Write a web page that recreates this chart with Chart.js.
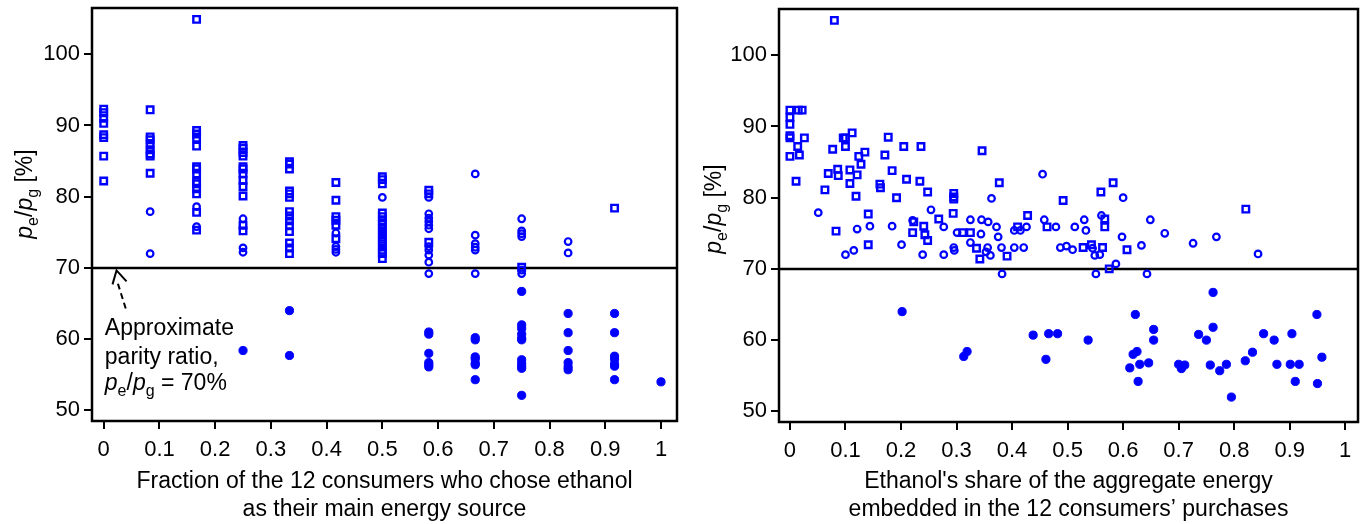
<!DOCTYPE html>
<html>
<head>
<meta charset="utf-8">
<script src="https://cdn.jsdelivr.net/npm/chart.js@4.4.1/dist/chart.umd.min.js"></script>
<style>
  html, body { margin: 0; padding: 0; background: #fff; }
  #wrap { position: relative; width: 1365px; height: 524px; }
  .panel { position: absolute; top: 0; height: 524px; }
</style>
</head>
<body>
<div id="wrap">
  <div class="panel" style="left:0;width:690px"><canvas id="fraction-chart"></canvas></div>
  <div class="panel" style="left:690px;width:675px"><canvas id="share-chart"></canvas></div>
</div>
<script>
// left chart: index = how many of the 12 consumers chose ethanol, values = pe/pg [%]
const leftSquares = [
  [92.3, 91.8, 91.0, 90.3, 88.7, 88.3, 85.7, 82.2],
  [92.2, 88.4, 88.0, 87.3, 86.6, 86.0, 85.7, 83.3],
  [104.9, 89.3, 88.8, 88.2, 87.1, 84.2, 83.9, 83.2, 82.1, 81.8, 81.1, 80.4, 77.8, 75.3],
  [87.2, 86.8, 86.2, 85.7, 84.2, 83.9, 83.2, 82.3, 81.4, 80.1, 76.0, 75.2],
  [84.9, 84.6, 83.9, 80.8, 80.4, 79.9, 77.9, 77.3, 76.6, 75.9, 75.1, 73.5, 72.8, 72.0],
  [82.0, 79.5, 77.2, 76.7, 76.0, 74.1],
  [82.8, 82.4, 81.8, 77.7, 77.2, 76.6, 76.1, 75.5, 74.9, 74.3, 73.7, 73.1, 72.5, 72.0, 71.3],
  [80.9, 80.4, 73.6],
  [],
  [70.1],
  [],
  [78.4],
  []
];
const leftCircles = [
  [],
  [77.9, 72.0],
  [78.6, 75.8],
  [76.9, 72.8, 72.2],
  [],
  [74.9, 73.0, 72.6, 72.2],
  [79.9],
  [79.9, 77.6, 77.0, 76.5, 76.0, 75.5, 73.0, 72.5, 71.8, 70.8, 69.2],
  [83.2, 74.6, 73.4, 72.9, 72.5, 69.2],
  [76.9, 75.2, 74.8, 74.4, 69.7, 69.2],
  [73.7, 72.1],
  [],
  []
];
const leftDots = [
  [], [], [],
  [58.4],
  [64.0, 57.7],
  [], [],
  [61.0, 60.7, 58.0, 56.7, 56.4, 56.1],
  [60.2, 59.9, 57.5, 57.2, 56.6, 56.4, 54.3],
  [66.7, 62.0, 61.5, 60.7, 60.1, 59.9, 57.1, 56.6, 56.2, 55.9, 52.1],
  [63.6, 60.9, 58.4, 56.7, 56.1, 55.7],
  [63.6, 60.9, 57.6, 57.2, 56.5, 56.2, 54.3],
  [54.0]
];
const consumers = 12;

// right chart: [ethanol share of energy, pe/pg %]
const rightSquares = [
  [0.080, 104.9], [0.0, 92.3], [0.015, 92.3], [0.022, 92.3], [0.0, 91.3], [0.0, 90.3],
  [0.0, 88.7], [0.0, 88.4], [0.026, 88.4], [0.014, 87.2], [0.0, 85.8], [0.017, 86.0],
  [0.011, 82.3], [0.112, 89.1], [0.096, 88.4], [0.100, 88.4], [0.100, 87.2], [0.077, 86.8],
  [0.135, 86.4], [0.124, 85.8], [0.128, 84.7], [0.086, 84.0], [0.069, 83.4], [0.087, 83.1],
  [0.108, 83.9], [0.121, 83.2], [0.108, 82.0], [0.063, 81.1], [0.119, 80.2], [0.177, 88.5],
  [0.205, 87.2], [0.236, 87.2], [0.171, 86.0], [0.184, 83.8], [0.210, 82.6], [0.234, 82.3],
  [0.162, 81.9], [0.163, 81.4], [0.248, 80.8], [0.192, 80.0], [0.295, 80.6], [0.295, 80.1],
  [0.295, 79.8], [0.141, 77.7], [0.294, 77.8], [0.268, 77.0], [0.223, 76.6], [0.241, 76.0],
  [0.083, 75.3], [0.221, 75.1], [0.243, 74.8], [0.248, 74.0], [0.311, 75.1], [0.325, 75.1],
  [0.141, 73.4], [0.346, 86.6], [0.377, 82.1], [0.582, 82.1], [0.560, 80.8], [0.492, 79.6],
  [0.428, 77.5], [0.567, 77.0], [0.410, 75.9], [0.463, 75.9], [0.567, 75.9], [0.336, 72.9],
  [0.342, 71.4], [0.391, 71.8], [0.528, 73.0], [0.543, 73.4], [0.563, 73.0], [0.607, 72.7],
  [0.575, 70.0], [0.821, 78.4]
];
const rightCircles = [
  [0.051, 77.9], [0.254, 78.3], [0.221, 76.8], [0.277, 75.9], [0.325, 76.9], [0.184, 76.0],
  [0.144, 76.0], [0.121, 75.6], [0.301, 75.1], [0.325, 73.7], [0.201, 73.4], [0.100, 72.0],
  [0.115, 72.6], [0.239, 72.0], [0.277, 72.0], [0.295, 73.0], [0.296, 72.6], [0.455, 83.3],
  [0.600, 80.0], [0.363, 79.9], [0.561, 77.5], [0.649, 76.9], [0.345, 76.9], [0.357, 76.6],
  [0.372, 75.9], [0.458, 76.9], [0.530, 76.9], [0.404, 75.4], [0.415, 75.4], [0.426, 75.9],
  [0.479, 75.9], [0.513, 75.9], [0.533, 75.4], [0.344, 74.9], [0.375, 74.5], [0.598, 74.5],
  [0.633, 73.3], [0.356, 73.0], [0.353, 72.4], [0.361, 71.9], [0.381, 73.0], [0.404, 73.0],
  [0.421, 73.0], [0.487, 73.0], [0.498, 73.2], [0.509, 72.7], [0.545, 72.9], [0.549, 71.9],
  [0.558, 72.0], [0.587, 70.7], [0.382, 69.3], [0.551, 69.3], [0.643, 69.3], [0.675, 75.0],
  [0.726, 73.6], [0.768, 74.5], [0.843, 72.1]
];
const rightDots = [
  [0.202, 64.0], [0.313, 57.7], [0.319, 58.4], [0.438, 60.7], [0.466, 60.9], [0.482, 60.9],
  [0.461, 57.3], [0.537, 60.0], [0.762, 66.7], [0.622, 63.6], [0.949, 63.6], [0.655, 61.5],
  [0.655, 60.0], [0.762, 61.8], [0.736, 60.8], [0.750, 60.0], [0.853, 60.9], [0.872, 60.0],
  [0.904, 60.9], [0.625, 58.4], [0.618, 58.0], [0.612, 56.1], [0.630, 56.6], [0.646, 56.8],
  [0.627, 54.2], [0.700, 56.6], [0.711, 56.5], [0.705, 56.0], [0.757, 56.5], [0.774, 55.7],
  [0.786, 56.6], [0.795, 52.0], [0.820, 57.1], [0.833, 58.3], [0.877, 56.6], [0.901, 56.6],
  [0.917, 56.6], [0.910, 54.2], [0.950, 53.9], [0.958, 57.6]
];

const yTicks = [50, 60, 70, 80, 90, 100];
const xTicks = [0, 0.1, 0.2, 0.3, 0.4, 0.5, 0.6, 0.7, 0.8, 0.9, 1];
const xTickLabels = ['0', '0.1', '0.2', '0.3', '0.4', '0.5', '0.6', '0.7', '0.8', '0.9', '1'];
const parityRatio = 70;
const leftXTitle = ['Fraction of the 12 consumers who chose ethanol', 'as their main energy source'];
const rightXTitle = ["Ethanol's share of the aggregate energy", 'embedded in the 12 consumers\u2019 purchases'];
const noteLines = ['Approximate', 'parity ratio,'];

const blue = '#0000ff';
const family = "Arial, 'Liberation Sans', Helvetica, sans-serif";

function byCount(groups) {
  let pts = [];
  groups.forEach((vals, n) => {
    vals.forEach(v => pts.push({ x: n / consumers, y: v }));
  });
  return pts;
}

function toPoints(pairs) {
  return pairs.map(p => ({ x: p[0], y: p[1] }));
}

function markerSets(squares, circles, dots) {
  return [
    { label: 'squares', data: squares, pointStyle: 'rect', pointRadius: 4.6, pointBorderWidth: 2.4,
      pointBorderColor: blue, pointBackgroundColor: 'rgba(0,0,0,0)' },
    { label: 'circles', data: circles, pointStyle: 'circle', pointRadius: 3.3, pointBorderWidth: 2.2,
      pointBorderColor: blue, pointBackgroundColor: 'rgba(0,0,0,0)' },
    { label: 'dots', data: dots, pointStyle: 'circle', pointRadius: 4.1, pointBorderWidth: 1,
      pointBorderColor: blue, pointBackgroundColor: blue }
  ];
}

// p_e/p_g with italic p and subscripts, then the rest of the text
function ratioParts(size, tail) {
  return [
    { font: 'italic ' + size + 'px ' + family, t: 'p', dy: 0 },
    { font: Math.round(size * 0.68) + 'px ' + family, t: 'e', dy: size * 0.24 },
    { font: size + 'px ' + family, t: '/', dy: 0 },
    { font: 'italic ' + size + 'px ' + family, t: 'p', dy: 0 },
    { font: Math.round(size * 0.68) + 'px ' + family, t: 'g', dy: size * 0.24 },
    { font: size + 'px ' + family, t: tail, dy: 0 }
  ];
}

function drawRatio(ctx, x, y, size, tail, centered) {
  let parts = ratioParts(size, tail);
  let w = 0;
  parts.forEach(p => { ctx.font = p.font; w += ctx.measureText(p.t).width; });
  let cx = centered ? x - w / 2 : x;
  ctx.textAlign = 'left';
  ctx.textBaseline = 'alphabetic';
  parts.forEach(p => {
    ctx.font = p.font;
    ctx.fillText(p.t, cx, y + p.dy);
    cx += ctx.measureText(p.t).width;
  });
}

function framePlugin(titleX, titleY) {
  return {
    id: 'frame',
    beforeDatasetsDraw(chart) {
      const { ctx, chartArea, scales } = chart;
      const y = scales.y.getPixelForValue(parityRatio);
      ctx.save();
      ctx.strokeStyle = '#000';
      ctx.lineWidth = 2.5;
      ctx.beginPath();
      ctx.moveTo(chartArea.left, y);
      ctx.lineTo(chartArea.right, y);
      ctx.stroke();
      ctx.restore();
    },
    afterDraw(chart) {
      const { ctx, chartArea } = chart;
      ctx.save();
      ctx.strokeStyle = '#000';
      ctx.lineWidth = 2.5;
      ctx.strokeRect(chartArea.left, chartArea.top, chartArea.right - chartArea.left, chartArea.bottom - chartArea.top);
      // y axis title
      ctx.fillStyle = '#000';
      ctx.translate(titleX, titleY);
      ctx.rotate(-Math.PI / 2);
      drawRatio(ctx, 0, 8, 23, ' [%]', true);
      ctx.restore();
    }
  };
}

const notePlugin = {
  id: 'note',
  afterDraw(chart) {
    const { ctx, scales } = chart;
    const sx = v => scales.x.getPixelForValue(v);
    const sy = v => scales.y.getPixelForValue(v);
    ctx.save();
    // dashed arrow pointing at the parity line
    const tipX = sx(0.023), tipY = sy(69.65);
    const tailX = sx(0.0395), tailY = sy(64.3);
    ctx.strokeStyle = '#000';
    ctx.lineWidth = 2;
    ctx.setLineDash([6, 4]);
    ctx.beginPath();
    ctx.moveTo(tailX, tailY);
    ctx.lineTo(tipX + 1, tipY + 12);
    ctx.stroke();
    ctx.setLineDash([]);
    ctx.beginPath();
    ctx.moveTo(tipX - 4, tipY + 14);
    ctx.lineTo(tipX, tipY);
    ctx.lineTo(tipX + 10, tipY + 11);
    ctx.stroke();

    ctx.fillStyle = '#000';
    ctx.font = '23px ' + family;
    ctx.textAlign = 'left';
    ctx.textBaseline = 'alphabetic';
    const left = sx(0.002);
    ctx.fillText(noteLines[0], left, sy(60.6));
    ctx.fillText(noteLines[1], left, sy(56.5));
    drawRatio(ctx, left, sy(52.85), 23, ' = 70%', false);
    ctx.restore();
  }
};

function makePanel(id, datasets, o) {
  new Chart(document.getElementById(id), {
    type: 'scatter',
    data: { datasets },
    options: {
      responsive: true,
      maintainAspectRatio: false,
      animation: false,
      events: [],
      layout: { padding: { top: o.top, right: o.right, left: 0, bottom: 0 } },
      plugins: { legend: { display: false }, tooltip: { enabled: false } },
      scales: {
        x: {
          type: 'linear',
          min: o.xMin,
          max: o.xMax,
          afterBuildTicks: s => { s.ticks = xTicks.map(v => ({ value: v })); },
          afterFit: s => { s.height = o.xHeight; s.paddingLeft = 0; s.paddingRight = 0; },
          border: { display: false },
          grid: { drawOnChartArea: false, drawTicks: true, tickLength: 8, color: '#000', lineWidth: 2 },
          ticks: {
            autoSkip: false, maxRotation: 0, padding: 8, color: '#000',
            font: { family, size: 22 },
            callback: (v, i) => xTickLabels[i]
          },
          title: {
            display: true, text: o.xTitle, color: '#000',
            font: { family, size: 23, lineHeight: 1.2 },
            padding: { top: 0, bottom: 1 }
          }
        },
        y: {
          type: 'linear',
          min: 48.5,
          max: 106.5,
          afterBuildTicks: s => { s.ticks = yTicks.map(v => ({ value: v })); },
          afterFit: s => { s.width = o.yWidth; s.paddingTop = 0; s.paddingBottom = 0; },
          border: { display: false },
          grid: { drawOnChartArea: false, drawTicks: true, tickLength: 8, color: '#000', lineWidth: 2 },
          ticks: { padding: 4, color: '#000', font: { family, size: 22 } }
        }
      }
    },
    plugins: o.plugins
  });
}

makePanel('fraction-chart',
  markerSets(byCount(leftSquares), byCount(leftCircles), byCount(leftDots)),
  { top: 8, right: 13, xHeight: 103, yWidth: 92, xMin: -0.021, xMax: 1.0287,
    xTitle: leftXTitle, plugins: [framePlugin(24, 194), notePlugin] });

makePanel('share-chart',
  markerSets(toPoints(rightSquares), toPoints(rightCircles), toPoints(rightDots)),
  { top: 9, right: 5, xHeight: 102, yWidth: 89, xMin: -0.0197, xMax: 1.023,
    xTitle: rightXTitle, plugins: [framePlugin(23, 209)] });
</script>
</body>
</html>
